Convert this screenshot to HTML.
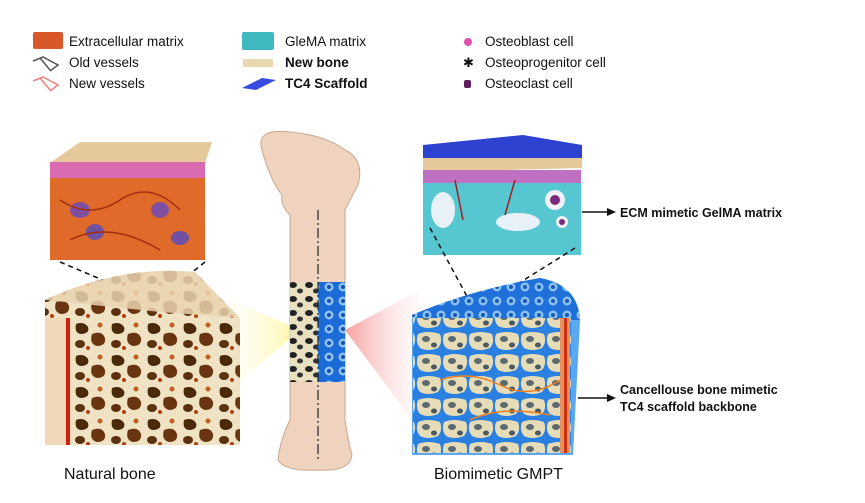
<!DOCTYPE html>
<html><head><meta charset="utf-8"><style>
html,body{margin:0;padding:0;background:#fff;}
svg{display:block;}
text{font-family:"Liberation Sans",sans-serif;fill:#111;}
</style></head><body>
<svg width="865" height="503" viewBox="0 0 865 503" xmlns="http://www.w3.org/2000/svg">
<defs>
<linearGradient id="yel" x1="1" x2="0" y1="0" y2="0"><stop offset="0" stop-color="#fff6a0"/><stop offset="1" stop-color="#fffbe0" stop-opacity="0.2"/></linearGradient>
<linearGradient id="pink" x1="0" x2="1"><stop offset="0" stop-color="#f5a0a0"/><stop offset="1" stop-color="#fde8e8" stop-opacity="0.2"/></linearGradient>
<pattern id="holes" width="36" height="32" patternUnits="userSpaceOnUse">
<rect width="36" height="32" fill="#efe3c4"/>
<path d="M4 4 q8 -3 12 3 q2 6 -6 7 q-8 0 -6 -10z" fill="#4a2808"/>
<path d="M20 14 q10 -4 13 4 q1 8 -8 8 q-8 -2 -5 -12z" fill="#6a3410"/>
<ellipse cx="8" cy="24" rx="5" ry="4" fill="#5a3010"/>
<circle cx="28" cy="5" r="2.5" fill="#c06020"/><circle cx="16" cy="28" r="2" fill="#b04010"/>
</pattern>
<pattern id="bholes" width="16" height="14" patternUnits="userSpaceOnUse">
<rect width="16" height="14" fill="#e8e0c0"/>
<ellipse cx="5" cy="5" rx="4" ry="3" fill="#222"/><ellipse cx="12" cy="11" rx="3" ry="2.5" fill="#333"/>
</pattern>
<pattern id="blue" width="14" height="14" patternUnits="userSpaceOnUse">
<rect width="14" height="14" fill="#1a6ad8"/>
<circle cx="7" cy="7" r="4.5" fill="#8fc4f2"/><circle cx="7" cy="7" r="2" fill="#1450b0"/>
</pattern>
<pattern id="gmpt" width="26" height="22" patternUnits="userSpaceOnUse">
<rect width="26" height="22" fill="#2a80e0"/>
<path d="M2 4 q10 -4 22 0 q3 8 -2 14 q-10 4 -18 0 q-5 -6 -2 -14z" fill="#e6dcb8"/>
<ellipse cx="10" cy="9" rx="4" ry="3" fill="#5c6a70"/><ellipse cx="18" cy="15" rx="3" ry="2.5" fill="#4a5860"/>
</pattern>
</defs>

<!-- legend -->
<rect x="33" y="32" width="30" height="17" fill="#d8582a" rx="2"/>
<text x="69" y="46" font-size="13.5">Extracellular matrix</text>
<path d="M33 61 l10 -4 l15 8 l-8 6 M40 58 l10 12" stroke="#555" fill="none" stroke-width="1.5"/>
<text x="69" y="67" font-size="13.5">Old vessels</text>
<path d="M33 81 l10 -4 l15 8 l-8 6 M40 78 l10 12" stroke="#f08080" fill="none" stroke-width="1.5"/>
<text x="69" y="88" font-size="13.5">New vessels</text>

<rect x="242" y="32" width="32" height="18" fill="#40b8c0" rx="2"/>
<text x="285" y="46" font-size="13.5">GleMA matrix</text>
<rect x="243" y="59" width="30" height="8" fill="#e8d8b0"/>
<text x="285" y="67" font-size="13.5" font-weight="bold">New bone</text>
<path d="M242 88 l20 -10 l14 2 l-20 10z" fill="#3a4ce0"/>
<text x="285" y="88" font-size="13.5" font-weight="bold">TC4 Scaffold</text>

<ellipse cx="468" cy="42" rx="4" ry="4" fill="#e050b0"/>
<text x="485" y="46" font-size="13.5">Osteoblast cell</text>
<text x="463" y="67" font-size="13" fill="#6050d0">✱</text>
<text x="485" y="67" font-size="13.5">Osteoprogenitor cell</text>
<rect x="464" y="80" width="7" height="8" rx="2" fill="#602060"/>
<text x="485" y="88" font-size="13.5">Osteoclast cell</text>

<!-- light cones -->
<polygon points="300,330 230,300 230,390" fill="url(#yel)"/>
<polygon points="345,330 420,290 420,430" fill="url(#pink)"/>

<!-- left top cube -->
<polygon points="50,163 80,142 212,142 205,163" fill="#e5c99a"/>
<rect x="50" y="162" width="155" height="18" fill="#d86ab0"/>
<rect x="50" y="178" width="155" height="82" fill="#e06a2a"/>
<ellipse cx="80" cy="210" rx="10" ry="8" fill="#8050a0"/><ellipse cx="95" cy="232" rx="9" ry="8" fill="#7050a0"/>
<ellipse cx="160" cy="210" rx="9" ry="8" fill="#8050a0"/><ellipse cx="180" cy="238" rx="9" ry="7" fill="#7050a0"/>
<path d="M60 200 q30 20 60 0 t60 10 M70 240 q40 -20 90 10" stroke="#a03010" fill="none" stroke-width="1.5"/>
<path d="M60 262 L150 300 M205 262 L160 298" stroke="#111" stroke-dasharray="5,4" fill="none" stroke-width="1.5"/>
<ellipse cx="155" cy="302" rx="10" ry="7" stroke="#111" fill="none" stroke-dasharray="3,2"/>

<!-- natural bone chunk -->
<path d="M45 300 Q120 265 195 272 L240 318 L240 445 L45 445Z" fill="url(#holes)"/>
<path d="M45 300 Q120 265 195 272 L240 318 L160 312Z" fill="#e9d3b0" opacity="0.85"/>
<rect x="45" y="318" width="22" height="127" fill="#f0d8b8"/>
<rect x="66" y="318" width="4" height="127" fill="#d02010"/>

<!-- bone -->
<path d="M262 150 Q255 128 290 132 Q325 135 345 150 Q365 160 358 185 Q350 200 345 210 L345 420 Q348 440 352 455 Q350 472 320 470 Q285 472 278 460 Q280 440 290 420 L290 215 Q280 205 282 195 Q270 180 262 150Z" fill="#f0d3be" stroke="#c9a890" stroke-width="1"/>
<rect x="290" y="282" width="28" height="100" fill="url(#bholes)"/>
<rect x="318" y="282" width="27" height="100" fill="url(#blue)"/>
<line x1="318" y1="210" x2="318" y2="460" stroke="#222" stroke-dasharray="10,3,2,3" stroke-width="1.2"/>

<!-- right top cube -->
<polygon points="423,145 523,135 582,145 582,158 423,160" fill="#2d42d0"/>
<polygon points="423,158 582,158 582,168 423,172" fill="#e5c99a"/>
<rect x="423" y="170" width="158" height="15" fill="#c070c0"/>
<rect x="423" y="183" width="158" height="72" fill="#56c6d0"/>
<ellipse cx="443" cy="210" rx="12" ry="18" fill="#e8f0f8"/>
<ellipse cx="518" cy="222" rx="22" ry="9" fill="#e8f0f8"/>
<circle cx="555" cy="200" r="10" fill="#f0f0f8"/><circle cx="555" cy="200" r="5" fill="#7a2a7a"/>
<circle cx="562" cy="222" r="6" fill="#f0f0f8"/><circle cx="562" cy="222" r="3" fill="#7a2a7a"/>
<path d="M455 180 l8 40 M515 180 l-10 35" stroke="#a02020" fill="none" stroke-width="1.5"/>
<path d="M430 228 L470 302 M575 248 L492 300" stroke="#111" stroke-dasharray="5,4" fill="none" stroke-width="1.5"/>
<ellipse cx="482" cy="302" rx="10" ry="7" stroke="#111" fill="none" stroke-dasharray="3,2"/>

<!-- GMPT chunk -->
<path d="M412 315 Q470 290 540 278 Q578 285 580 320 L573 455 L412 455Z" fill="#5aa8f0"/>
<path d="M412 315 Q470 290 540 278 Q578 285 580 320 L573 320 L412 320Z" fill="url(#blue)" opacity="0.9"/>
<rect x="413" y="318" width="158" height="135" fill="url(#gmpt)"/>
<rect x="560" y="318" width="10" height="135" fill="#e89060"/>
<rect x="564" y="318" width="3" height="135" fill="#d03010"/>
<path d="M440 380 q30 -10 60 5 t60 -5 M470 420 q30 -15 80 -5" stroke="#f08020" fill="none" stroke-width="1.5"/>

<!-- arrows & labels -->
<line x1="582" y1="212" x2="610" y2="212" stroke="#111" stroke-width="1.5"/>
<polygon points="616,212 607,208 607,216" fill="#111"/>
<text x="620" y="217" font-size="12.5" font-weight="bold">ECM mimetic GelMA matrix</text>
<line x1="578" y1="398" x2="610" y2="398" stroke="#111" stroke-width="1.5"/>
<polygon points="616,398 607,394 607,402" fill="#111"/>
<text x="620" y="394" font-size="12.5" font-weight="bold">Cancellouse bone mimetic</text>
<text x="620" y="411" font-size="12.5" font-weight="bold">TC4 scaffold backbone</text>

<text x="64" y="479" font-size="16">Natural bone</text>
<text x="434" y="479" font-size="16">Biomimetic GMPT</text>
</svg>
</body></html>
